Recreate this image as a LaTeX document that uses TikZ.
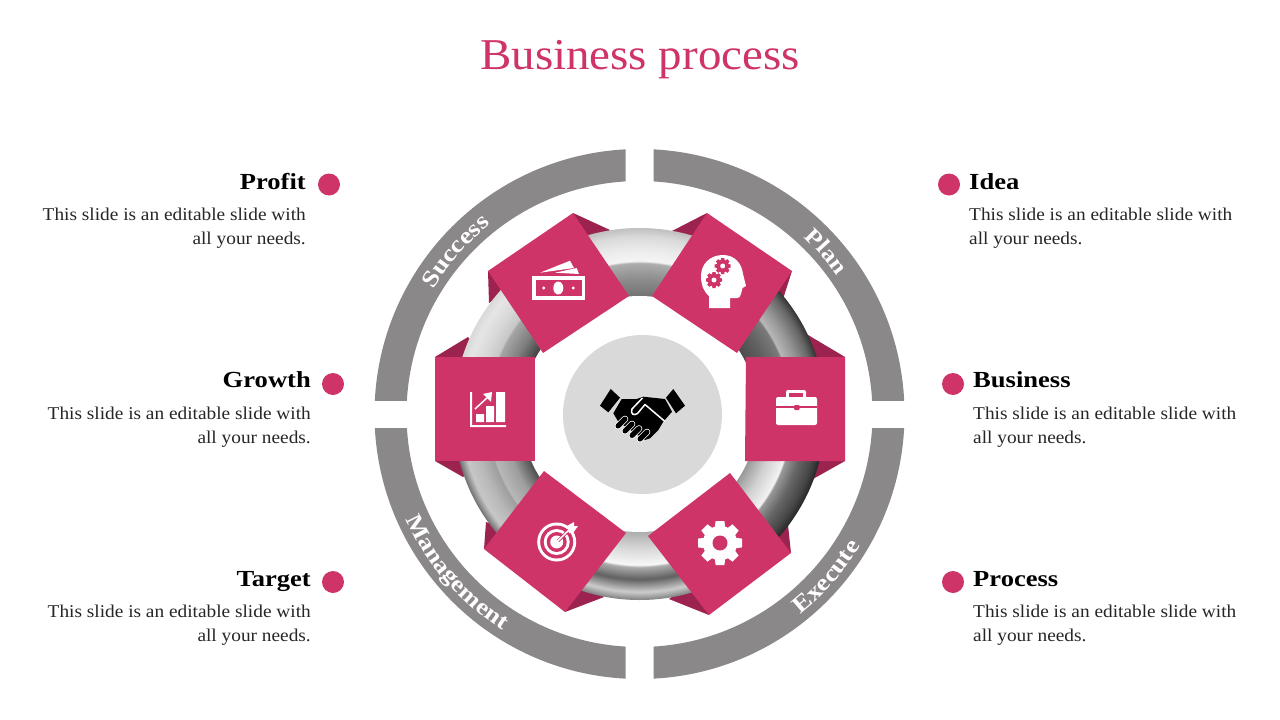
\documentclass[tikz,border=0pt]{standalone}
\usepackage{fontspec}
\setmainfont{Liberation Serif}
\newfontfamily\titlefont[FakeStretch=1.067]{Liberation Serif}
\newfontfamily\headfont[FakeStretch=1.155]{Liberation Serif}
\newfontfamily\bodyfont[FakeStretch=1.074]{Liberation Serif}
\usetikzlibrary{decorations.text}
\definecolor{slidepink}{HTML}{CE3468}
\definecolor{flappink}{HTML}{9C2250}
\definecolor{ringgray}{HTML}{8B8889}
\definecolor{hubgray}{HTML}{D9D9D9}
% one sector of the tube: grey levels from inner edge to rim
\newcommand{\ringshading}[8]{\pgfdeclareradialshading{#1}{\pgfpoint{0bp}{0bp}}{%
color(0bp)=(white!#2!black); color(15.85bp)=(white!#2!black); color(18.15bp)=(white!#3!black);
color(20.3bp)=(white!#4!black); color(20.55bp)=(white!#5!black); color(22.2bp)=(white!#6!black);
color(23.9bp)=(white!#7!black); color(25bp)=(white!#8!black); color(50bp)=(white!#8!black)}}
\ringshading{ringtop}{45}{55}{68}{96}{92}{85}{75}
\ringshading{ringupleft}{25}{50}{65}{78}{85}{90}{85}
\ringshading{ringupright}{30}{38}{48}{72}{58}{40}{20}
\ringshading{ringlowleft}{30}{62}{72}{62}{72}{78}{45}
\ringshading{ringbottom}{68}{85}{97}{68}{38}{80}{50}
\ringshading{ringlowright}{60}{82}{95}{60}{40}{28}{15}
\tikzset{
  squarebox/.style={fill=slidepink},
  flap/.style={fill=flappink},
  dotmark/.style={circle, fill=slidepink, minimum size=22pt, inner sep=0pt},
  headtext/.style={font=\headfont\fontsize{23}{27}\selectfont\bfseries, inner sep=0pt, text=black},
  bodytext/.style={font=\bodyfont\fontsize{18}{24}\selectfont, inner sep=0pt, text=black!85},
  gearicon/.pic={
    \fill[pic actions] (0,0) circle[radius=0.78];
    \foreach \a in {0,45,...,315}
      \fill[pic actions, rotate=\a] (-0.25,0.6) -- (-0.2,1) -- (0.2,1) -- (0.25,0.6) -- cycle;
  }
}
\begin{document}
\begin{tikzpicture}[x=1pt, y=-1pt]
\path[use as bounding box, fill=white] (0,0) rectangle (1280,720);
\node[font=\titlefont\fontsize{44}{50}\selectfont, text=slidepink, inner sep=0pt] (title) at (640,60) {Business process};

% flaps behind the tube
\fill[flap] (573,213) -- (610,230) -- (585,245) -- cycle;
\fill[flap] (488,271) -- (489,303) -- (510,290) -- cycle;
\fill[flap] (707,213) -- (670,232) -- (695,245) -- cycle;
\fill[flap] (792,271) -- (782,302) -- (770,290) -- cycle;
\fill[flap] (435,357) -- (468,337) -- (485,357) -- cycle;
\fill[flap] (845,357) -- (808,335) -- (795,357) -- cycle;
\fill[flap] (435,461) -- (463,477) -- (485,461) -- cycle;
\fill[flap] (845,461) -- (813,479) -- (795,461) -- cycle;
\fill[flap] (565,612) -- (604,597) -- (585,580) -- cycle;
\fill[flap] (484,549) -- (486,522) -- (510,530) -- cycle;
\fill[flap] (709,615) -- (669,599) -- (695,580) -- cycle;
\fill[flap] (791,553) -- (788,525) -- (765,535) -- cycle;

\begin{scope}[shift={(639.5,414)}, y=1pt]
  % outer ring
  \foreach \sx/\sy in {1/1,-1/1,-1/-1,1/-1} {
    \begin{scope}
      \clip (\sx*14,\sy*14) rectangle (\sx*270,\sy*270);
      \fill[ringgray, even odd rule] (0,0) circle[radius=265] (0,0) circle[radius=233];
    \end{scope}
  }
  % tube
  \foreach \ringname/\from/\to in {ringtop/58/122, ringupleft/122/180, ringlowleft/180/237,
      ringbottom/237/302, ringlowright/302/360, ringupright/0/58} {
    \begin{scope}
      \clip (0,0) -- (\from:260) arc[start angle=\from, end angle=\to, radius=260] -- cycle;
      \shade[shading=\ringname] (0,0) circle[radius=186];
    \end{scope}
  }
  \fill[white] (0,0) circle[radius=118];
  % ring labels
  \path[decorate, decoration={text along path, text align=center,
    text={|\headfont\fontsize{23.5}{28}\selectfont\bfseries\color{white}|Success}}]
    (177.5:241) arc[start angle=177.5, end angle=99.5, radius=241];
  \path[decorate, decoration={text along path, text align=center,
    text={|\headfont\fontsize{22.5}{28}\selectfont\bfseries\color{white}|Plan}}]
    (80:241) arc[start angle=80, end angle=2, radius=241];
  \path[decorate, decoration={text along path, text align=center,
    text={|\headfont\fontsize{23.5}{28}\selectfont\bfseries\color{white}|Execute}}]
    (-80:257) arc[start angle=-80, end angle=-2, radius=257];
  \path[decorate, decoration={text along path, text align=center,
    text={|\headfont\fontsize{23}{28}\selectfont\bfseries\color{white}|Management}}]
    (182:256) arc[start angle=182, end angle=260, radius=256];
\end{scope}

\node[circle, fill=hubgray, minimum size=159pt, inner sep=0pt] (hub) at (642.5,414.5) {};

% squares
\fill[squarebox] (573,213) -- (629,296) -- (543,353) -- (488,271) -- cycle;
\fill[squarebox] (707,213) -- (792,271) -- (737,353) -- (652,296) -- cycle;
\fill[squarebox] (435,357) -- (535,357) -- (535,461) -- (435,461) -- cycle;
\fill[squarebox] (746,357) -- (845,357) -- (845,461) -- (745,461) -- cycle;
\fill[squarebox] (544,471) -- (626,533) -- (565,612) -- (484,549) -- cycle;
\fill[squarebox] (730,473) -- (791,553) -- (709,615) -- (648,536) -- cycle;

% money
\fill[white] (532,276) rectangle (585,300);
\fill[slidepink] (536,280) rectangle (582,296);
\fill[white] (558.3,288) ellipse[x radius=5, y radius=6.5];
\fill[white] (543.7,288) circle[radius=1.6] (573.3,288) circle[radius=1.6];
\fill[white] (540,272.7) -- (570,260.7) -- (574,268) -- cycle;
\fill[white] (555,272.7) -- (576.7,268) -- (579,274) -- cycle;

% head
\fill[white] (709,308) -- (709,296) .. controls (703,291) and (701,284) .. (701,276)
  .. controls (701,264) and (710,255) .. (723,255) .. controls (735,255) and (742,264) .. (743,274)
  -- (746,286) -- (742.5,288) -- (741,294) .. controls (740.5,297) and (739,298) .. (737,298)
  -- (730,298) -- (730,308) -- cycle;
\pic[fill=slidepink, scale=8] at (722.7,266) {gearicon};
\pic[fill=slidepink, scale=8] at (714,280) {gearicon};
\fill[white] (722.7,266) circle[radius=2.5] (714,280) circle[radius=2.5];

% briefcase
\fill[white, rounded corners=2pt] (786,390) rectangle (806,400);
\fill[slidepink] (789,393) rectangle (803,400);
\fill[white, rounded corners=2pt] (776,397) rectangle (817,425);
\fill[slidepink] (776,406) rectangle (817,407.5);
\fill[slidepink, rounded corners=1pt] (794,405) rectangle (799.5,410);

% chart
\fill[white] (470,392) rectangle (472,427) (470,425) rectangle (506,427);
\fill[white] (476,414) rectangle (484,422) (486,406) rectangle (494,422) (496,392) rectangle (505,422);
\draw[white, line width=1.5pt] (475,409) -- (489,396);
\fill[white] (492,392) -- (483,394) -- (491,402) -- cycle;

% gear
\pic[fill=white, scale=22] at (720,543) {gearicon};
\fill[slidepink] (720,543) circle[radius=7.5];

% target
\fill[white] (556.7,542) circle[radius=19.5];
\fill[slidepink] (556.7,542) circle[radius=16.5];
\fill[white] (556.7,542) circle[radius=13];
\fill[slidepink] (556.7,542) circle[radius=10];
\fill[white] (556.7,542) circle[radius=6.5];
\draw[slidepink, line width=3pt] (558,541) -- (570,529);
\draw[white, line width=1.5pt] (556.7,542) -- (570,529);
\fill[white] (567,526) -- (574,522) -- (574,526) -- (578,526) -- (573,533) -- (569,533) -- cycle;

% handshake
\fill[black] (610.7,389) -- (620,397.7) -- (608.3,412.3) -- (600,405.7) -- cycle;
\fill[black] (673.3,389) -- (685,405.7) -- (676,413.3) -- (666,397.7) -- cycle;
\fill[black] (621.7,399) -- (636.7,399) -- (643.3,396.7) -- (665,399) -- (672,411.7) -- (663.3,421.7)
  -- (658.3,430) -- (650,438.3) -- (645,440) -- (618.3,421.7) -- (613.3,413.3) -- cycle;
\draw[white, line width=1.5pt, line join=round] (642.5,398) -- (632,409) .. controls (630,414) and (634,416) .. (637.5,413.5)
  -- (645,404.5) -- (665,421.5);
\foreach \fx/\fy in {618/426, 625/431, 632/435.5, 640/439} {
  \draw[white, line width=6.6pt, line cap=round] (\fx,\fy) -- (\fx+7,\fy-7);
  \draw[black, line width=5pt, line cap=round] (\fx,\fy) -- (\fx+7,\fy-7);
}

% side labels
\node[dotmark] (dotprofit) at (329,184.5) {};
\node[dotmark] (dotgrowth) at (333,384) {};
\node[dotmark] (dottarget) at (333,582) {};
\node[dotmark] (dotidea) at (949,184.5) {};
\node[dotmark] (dotbusiness) at (953,384) {};
\node[dotmark] (dotprocess) at (953,582) {};

\node[headtext, anchor=base east] (profit) at (306,189) {Profit};
\node[headtext, anchor=base east] (growth) at (311,387) {Growth};
\node[headtext, anchor=base east] (target) at (311,586) {Target};
\node[headtext, anchor=base west] (idea) at (969,189) {Idea};
\node[headtext, anchor=base west] (business) at (973,387) {Business};
\node[headtext, anchor=base west] (process) at (973,586) {Process};

\node[bodytext, anchor=north east, align=right] (profitbody) at (306,208) {This slide is an editable slide with\\all your needs.};
\node[bodytext, anchor=north east, align=right] (growthbody) at (311,407) {This slide is an editable slide with\\all your needs.};
\node[bodytext, anchor=north east, align=right] (targetbody) at (311,605) {This slide is an editable slide with\\all your needs.};
\node[bodytext, anchor=north west, align=left] (ideabody) at (969,208) {This slide is an editable slide with\\all your needs.};
\node[bodytext, anchor=north west, align=left] (businessbody) at (973,407) {This slide is an editable slide with\\all your needs.};
\node[bodytext, anchor=north west, align=left] (processbody) at (973,605) {This slide is an editable slide with\\all your needs.};
\end{tikzpicture}
\end{document}
